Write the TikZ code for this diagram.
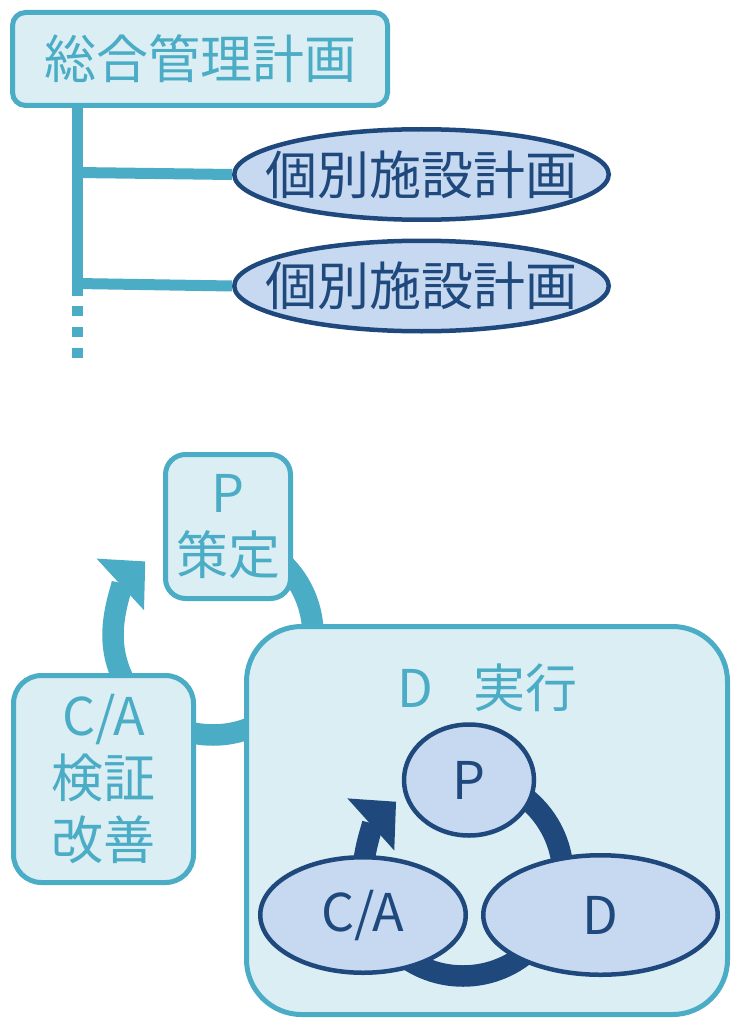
\documentclass[tikz,border=0pt]{standalone}
\usepackage{fontspec}
\setmainfont{Noto Sans CJK JP}
\usetikzlibrary{arrows.meta,shapes.geometric}
\definecolor{cyanline}{HTML}{4BACC6}
\definecolor{cyanfill}{HTML}{DAEEF3}
\definecolor{navy}{HTML}{1F497D}
\definecolor{ellfill}{HTML}{C6D9F1}
\newcommand{\zw}[1]{\makebox[0pt]{#1}}
\begin{document}
\begin{tikzpicture}[x=1pt,y=1pt,
  bigtext/.style={font=\fontsize{52}{62}\selectfont},
  cbox/.style={rectangle, draw=cyanline, fill=cyanfill, line width=5pt, text=cyanline, inner sep=0pt, align=center, bigtext},
  nell/.style={ellipse, draw=navy, fill=ellfill, line width=4.5pt, text=navy, inner sep=0pt, bigtext},
  trunk/.style={draw=cyanline, line width=11pt},
  cyc/.style={line width=21.5pt, -{Triangle[length=34pt,width=68pt]}},
]
\useasboundingbox (0,0) rectangle (731,-1019);

% ---------- top: hierarchy ----------
\node[cbox, minimum width=375pt, minimum height=93pt, rounded corners=13pt] (top) at (200,-59) {総合管理計画};
\coordinate (tA) at (77,-108);
\coordinate (tEnd) at (77,-296);
\coordinate (b1) at (77,-172.5);
\coordinate (b2) at (77,-283.5);
\coordinate (d0) at (77,-306);
\coordinate (d1) at (77,-359);
\draw[trunk] (tA) -- (tEnd);
\draw[trunk, dash pattern=on 10pt off 11pt] (d0) -- (d1);
\node[nell, minimum width=374.5pt, minimum height=90.5pt] (e1) at (421.5,-174.5) {\zw{個別施設計画}};
\node[nell, minimum width=374.5pt, minimum height=90.5pt] (e2) at (421.5,-286) {\zw{個別施設計画}};
\draw[trunk] (b1) -- (e1.west);
\draw[trunk] (b2) -- (e2.west);

% ---------- bottom: PDCA ----------
\coordinate (oc) at (213,-635);
\draw[cyc, draw=cyanline] (oc) ++(90:100pt) arc[start angle=90, end angle=-227.4, radius=100pt];

\node[cbox, minimum width=125pt, minimum height=144pt, rounded corners=20pt] (pbox) at (228,-526.5) {P\\策定};
\node[cbox, minimum width=180pt, minimum height=207pt, rounded corners=28pt] (cabox) at (103.5,-779) {C/A\\検証\\改善};
\node[cbox, minimum width=481pt, minimum height=388pt, rounded corners=55pt] (dbox) at (487,-820.5) {};
\node[bigtext, text=cyanline, inner sep=0pt] (dlabel) at (487.5,-688) {D\hspace{40pt}実行};

\coordinate (ic) at (463,-876);
\draw[cyc, draw=navy] (ic) ++(90:100pt) arc[start angle=90, end angle=-228, radius=100pt];

\node[nell, minimum width=130pt, minimum height=111pt] (ip) at (469,-780) {\zw{P}};
\node[nell, minimum width=205.5pt, minimum height=115.5pt] (ica) at (363,-915) {\zw{C/A}};
\node[nell, minimum width=234.5pt, minimum height=119.5pt] (id) at (600.5,-915) {\zw{D}};
\end{tikzpicture}
\end{document}
